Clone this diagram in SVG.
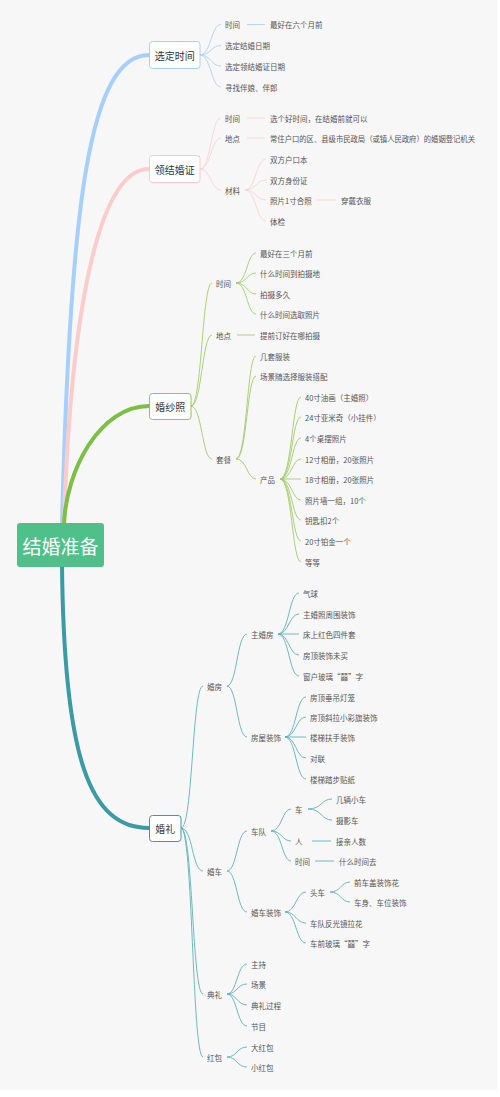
<svg xmlns="http://www.w3.org/2000/svg" width="500" height="1097" viewBox="0 0 500 1097">
<style>
text{font-family:"Noto Sans CJK SC","Liberation Sans",sans-serif;dominant-baseline:central}
.t{font-size:7.5px;fill:#555}
.m{font-size:10px;fill:#333;text-anchor:middle}
.r{font-size:19px;fill:#fff;text-anchor:middle}
.c{fill:none;stroke-width:0.9}
.main{fill:none;stroke-width:4;stroke-linecap:round}
.b{stroke:#acd3f7}.p{stroke:#fbd2d2}.g{stroke:#9fcd6a}.e{stroke:#5fb2ba}
</style>
<rect x="0" y="0" width="500" height="1097" fill="#fff"/>
<rect x="0" y="0" width="497" height="1090" fill="#f7f7f7"/>
<g id="connectors">
<path class="main" stroke="#a6d0fa" d="M62,524 C70,200 90,55 149,55"/>
<path class="main" stroke="#fccccc" d="M64,524 C70,330 95,169 149,169"/>
<path class="main" stroke="#7cbf45" d="M64,524 C66,470 100,406 149,406"/>
<path class="main" stroke="#3a9ba5" d="M62,565 C64,760 90,828 149,828"/>
<g class="c b">
<path d="M200,55 C211,55 211,24.5 221,24.5 M200,55 C211,55 211,45.5 221,45.5 M200,55 C211,55 211,66 221,66 M200,55 C211,55 211,87 221,87"/>
<path d="M247,24.5 H265"/>
</g>
<g class="c p">
<path d="M200,169 C211,169 211,118 221,118 M200,169 C211,169 211,138 221,138 M200,169 C211,169 211,190 221,190"/>
<path d="M247,118 H265 M247,138 H265"/>
<path d="M245,190 C256,190 256,159 266,159 M245,190 C256,190 256,180 266,180 M245,190 C256,190 256,200 266,200 M245,190 C256,190 256,221 266,221"/>
<path d="M316,200 H336"/>
</g>
<g class="c g">
<path d="M191,406 C202,406 202,283 212,283 M191,406 C202,406 202,335 212,335 M191,406 C202,406 202,459 212,459"/>
<path d="M236,283 C247,283 247,253 256,253 M236,283 C247,283 247,273 256,273 M236,283 C247,283 247,294 256,294 M236,283 C247,283 247,314 256,314"/>
<path d="M237,335 H255"/>
<path d="M236,459 C247,459 247,356 256,356 M236,459 C247,459 247,376 256,376 M236,459 C247,459 247,479 256,479"/>
<path d="M280,479 C292,479 292,397 301,397 M280,479 C292,479 292,417 301,417 M280,479 C292,479 292,438 301,438 M280,479 C292,479 292,459 301,459 M280,479 C292,479 292,479 301,479 M280,479 C292,479 292,500 301,500 M280,479 C292,479 292,520 301,520 M280,479 C292,479 292,541 301,541 M280,479 C292,479 292,562 301,562"/>
</g>
<g class="c e">
<path d="M181,828 C193,828 192,686 203,686 M181,828 C193,828 192,871 203,871 M181,828 C193,828 192,994 203,994 M181,828 C193,828 192,1057 203,1057"/>
<path d="M227,686 C237,686 237,634 247,634 M227,686 C237,686 237,737 247,737"/>
<path d="M278,634 C289,634 289,593 299,593 M278,634 C289,634 289,614 299,614 M278,634 C289,634 289,634 299,634 M278,634 C289,634 289,655 299,655 M278,634 C289,634 289,676 299,676"/>
<path d="M285,737 C296,737 296,697 306,697 M285,737 C296,737 296,717 306,717 M285,737 C296,737 296,737 306,737 M285,737 C296,737 296,758 306,758 M285,737 C296,737 296,779 306,779"/>
<path d="M227,871 C237,871 237,831 247,831 M227,871 C237,871 237,912 247,912"/>
<path d="M271,831 C282,831 282,809 291,809 M271,831 C282,831 282,841 291,841 M271,831 C282,831 282,861 291,861"/>
<path d="M308,809 C322,809 321,799 332,799 M308,809 C322,809 321,820 332,820"/>
<path d="M312,841 H331 M315,861 H334"/>
<path d="M285,912 C296,912 296,892 306,892 M285,912 C296,912 296,923 306,923 M285,912 C296,912 296,943 306,943"/>
<path d="M330,892 C341,892 341,882 350,882 M330,892 C341,892 341,902 350,902"/>
<path d="M227,994 C237,994 237,964 247,964 M227,994 C237,994 237,984 247,984 M227,994 C237,994 237,1005 247,1005 M227,994 C237,994 237,1026 247,1026"/>
<path d="M227,1057 C237,1057 237,1047 247,1047 M227,1057 C237,1057 237,1067 247,1067"/>
</g>
</g>
<g id="root"><rect x="17" y="523" width="87" height="44" rx="3" fill="#50c08b"/><text class="r" x="60.5" y="545">结婚准备</text></g>
<g id="n1"><rect x="149.5" y="41.5" width="50.5" height="27" rx="3" fill="#fff" stroke="#a6d0fa"/><text class="m" x="174.75" y="55">选定时间</text></g>
<g id="n1c">
<text class="t" x="225" y="24.5">时间</text><text class="t" x="270" y="24.5">最好在六个月前</text>
<text class="t" x="225" y="45.5">选定结婚日期</text>
<text class="t" x="225" y="66">选定领结婚证日期</text>
<text class="t" x="225" y="87">寻找伴娘、伴郎</text>
</g>
<g id="n2"><rect x="149.5" y="155.5" width="50.5" height="27" rx="3" fill="#fff" stroke="#fbc9c9"/><text class="m" x="174.75" y="169">领结婚证</text></g>
<g id="n2c">
<text class="t" x="225" y="118">时间</text><text class="t" x="270" y="118">选个好时间，在结婚前就可以</text>
<text class="t" x="225" y="138">地点</text><text class="t" x="270" y="138" textLength="205" lengthAdjust="spacingAndGlyphs">常住户口的区、县级市民政局（或镇人民政府）的婚姻登记机关</text>
<text class="t" x="225" y="190">材料</text>
<text class="t" x="270" y="159">双方户口本</text>
<text class="t" x="270" y="180">双方身份证</text>
<text class="t" x="270" y="200">照片1寸合照</text><text class="t" x="341" y="200">穿戴衣服</text>
<text class="t" x="270" y="221">体检</text>
</g>
<g id="n3"><rect x="149.5" y="393.5" width="41.5" height="26" rx="3" fill="#fff" stroke="#8fc65a"/><text class="m" x="170.25" y="406.5">婚纱照</text></g>
<g id="n3c">
<text class="t" x="216" y="283">时间</text>
<text class="t" x="260" y="253">最好在三个月前</text>
<text class="t" x="260" y="273">什么时间到拍摄地</text>
<text class="t" x="260" y="294">拍摄多久</text>
<text class="t" x="260" y="314">什么时间选取照片</text>
<text class="t" x="216" y="335">地点</text><text class="t" x="260" y="335">提前订好在哪拍摄</text>
<text class="t" x="216" y="459">套餐</text>
<text class="t" x="260" y="356">几套服装</text>
<text class="t" x="260" y="376">场景随选择服装搭配</text>
<text class="t" x="260" y="479">产品</text>
<text class="t" x="305" y="397">40寸油画（主婚照）</text>
<text class="t" x="305" y="417">24寸亚米奇（小挂件）</text>
<text class="t" x="305" y="438">4个桌摆照片</text>
<text class="t" x="305" y="459">12寸相册，20张照片</text>
<text class="t" x="305" y="479">18寸相册，20张照片</text>
<text class="t" x="305" y="500">照片墙一组，10个</text>
<text class="t" x="305" y="520">钥匙扣2个</text>
<text class="t" x="305" y="541">20寸铂金一个</text>
<text class="t" x="305" y="562">等等</text>
</g>
<g id="n4"><rect x="149.5" y="815.5" width="31.5" height="26" rx="3" fill="#fff" stroke="#3a9ba5"/><text class="m" x="165.25" y="828.5">婚礼</text></g>
<g id="n4c">
<text class="t" x="207" y="686">婚房</text>
<text class="t" x="251" y="634">主婚房</text>
<text class="t" x="303" y="593">气球</text>
<text class="t" x="303" y="614">主婚照周围装饰</text>
<text class="t" x="303" y="634">床上红色四件套</text>
<text class="t" x="303" y="655">房顶装饰未买</text>
<text class="t" x="303" y="676">窗户玻璃“囍”字</text>
<text class="t" x="251" y="737">房屋装饰</text>
<text class="t" x="310" y="697">房顶垂吊灯笼</text>
<text class="t" x="310" y="717">房顶斜拉小彩旗装饰</text>
<text class="t" x="310" y="737">楼梯扶手装饰</text>
<text class="t" x="310" y="758">对联</text>
<text class="t" x="310" y="779">楼梯踏步贴纸</text>
<text class="t" x="207" y="871">婚车</text>
<text class="t" x="251" y="831">车队</text>
<text class="t" x="295" y="809">车</text>
<text class="t" x="336" y="799">几辆小车</text>
<text class="t" x="336" y="820">摄影车</text>
<text class="t" x="295" y="841">人</text><text class="t" x="336" y="841">接亲人数</text>
<text class="t" x="295" y="861">时间</text><text class="t" x="339" y="861">什么时间去</text>
<text class="t" x="251" y="912">婚车装饰</text>
<text class="t" x="310" y="892">头车</text>
<text class="t" x="354" y="882">前车盖装饰花</text>
<text class="t" x="354" y="902">车身、车位装饰</text>
<text class="t" x="310" y="923">车队反光镜拉花</text>
<text class="t" x="310" y="943">车前玻璃“囍”字</text>
<text class="t" x="207" y="994">典礼</text>
<text class="t" x="251" y="964">主持</text>
<text class="t" x="251" y="984">场景</text>
<text class="t" x="251" y="1005">典礼过程</text>
<text class="t" x="251" y="1026">节目</text>
<text class="t" x="207" y="1057">红包</text>
<text class="t" x="251" y="1047">大红包</text>
<text class="t" x="251" y="1067">小红包</text>
</g>
</svg>
